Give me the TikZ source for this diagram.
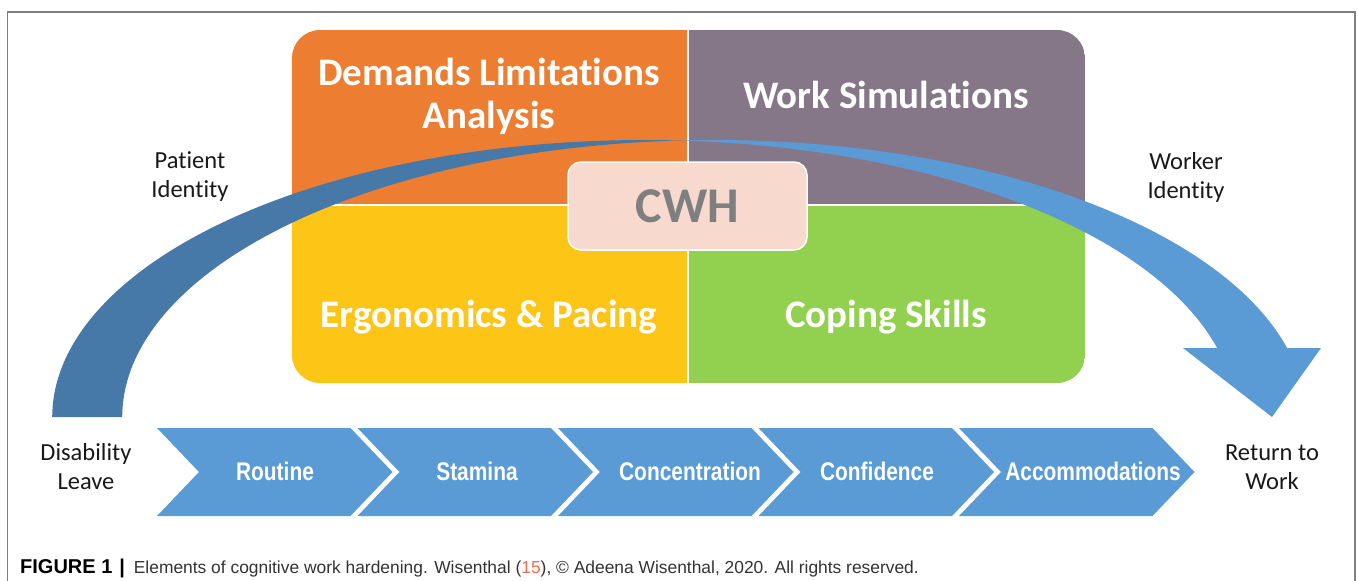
\documentclass[tikz,border=0pt]{standalone}
\usepackage{fontspec}
\setmainfont[Ligatures=NoCommon]{Carlito}
\newfontfamily\chevfont[FakeStretch=0.82]{Liberation Sans}
\newfontfamily\capfont{Liberation Sans}
\usepackage{xcolor}
\usetikzlibrary{positioning}

\definecolor{dlaorange}{HTML}{ED7D31}
\definecolor{simpurple}{HTML}{857688}
\definecolor{ergyellow}{HTML}{FDC516}
\definecolor{copegreen}{HTML}{92D050}
\definecolor{hubpink}{HTML}{F8D9CE}
\definecolor{hubgray}{HTML}{7F7F7F}
\definecolor{stepblue}{HTML}{5B9BD5}
\definecolor{backblue}{HTML}{4779A8}
\definecolor{refred}{HTML}{E8704A}
\definecolor{framegray}{HTML}{808080}

\begin{document}
\begin{tikzpicture}[
  x=1pt, y=-1pt,
  every node/.style={inner sep=0pt},
  quad/.style={font=\fontsize{39}{43}\selectfont\bfseries, text=white, align=center},
  side/.style={font=\fontsize{24.5}{29}\selectfont, text=black!90, align=center},
  chev/.style={fill=stepblue},
  chevlbl/.style={font=\chevfont\fontsize{25.5}{28}\selectfont\bfseries, text=white},
  hub/.style={draw=white, line width=1.5pt, fill=hubpink, rounded corners=13pt,
              minimum width=239pt, minimum height=88pt,
              font=\fontsize{50}{50}\selectfont\bfseries, text=hubgray}
]
  \useasboundingbox (0,0) rectangle (1358,581);

  % frame
  \draw[framegray, line width=1.2pt] (7.5,581) -- (7.5,12) -- (1355,12) -- (1355,581);

  % four quadrants, outer corners rounded
  \begin{scope}
    \clip[rounded corners=28pt] (292,30) rectangle (1085,383);
    \fill[dlaorange] (292,30) rectangle (688,205);
    \fill[simpurple] (688,30) rectangle (1085,205);
    \fill[ergyellow] (292,205) rectangle (688,383);
    \fill[copegreen] (688,205) rectangle (1085,383);
    \draw[white, line width=1.5pt] (688,30) -- (688,383) (292,205) -- (1085,205);
  \end{scope}

  \node[quad] (dla)  at (489,96)  {Demands Limitations\\Analysis};
  \node[quad] (sim)  at (886,95)  {Work Simulations};
  \node[quad] (erg)  at (489,317) {Ergonomics \& Pacing};
  \node[quad] (cope) at (886,317) {Coping Skills};

  % curved arrow: two ellipses shifted by the band width
  \fill[backblue]
    plot[domain=180:273.39, samples=80] ({644+591.8*cos(\x)},{417+277*sin(\x)})
    -- plot[domain=266.61:180, samples=80] ({714+591.8*cos(\x)},{417+277*sin(\x)})
    -- cycle;
  \fill[stepblue]
    plot[domain=266.61:345.58, samples=80] ({714+591.8*cos(\x)},{417+277*sin(\x)})
    -- (1321,348) -- (1272,417) -- (1183,348)
    -- plot[domain=345.58:273.39, samples=80] ({644+591.8*cos(\x)},{417+277*sin(\x)})
    -- cycle;

  \node[hub] (cwh) at (687.5,206) {CWH};

  \node[side] (patient) at (190,177)  {Patient\\Identity};
  \node[side] (worker)  at (1186,177) {Worker\\Identity};

  % chevron steps
  \foreach \sx in {157,357.5,558,758.5,959}
    \fill[chev] (\sx,428) -- ++(193.5,0) -- ++(42,44) -- ++(-42,44)
      -- ++(-193.5,0) -- ++(42,-44) -- cycle;

  \node[chevlbl] (routine) at (275,471)  {Routine};
  \node[chevlbl] (stamina) at (477,471)  {Stamina};
  \node[chevlbl] (conc)    at (690,471)  {Concentration};
  \node[chevlbl] (conf)    at (877,471)  {Confidence};
  \node[chevlbl] (accom)   at (1093,471) {Accommodations};

  \node[side] (leave) at (86,467)   {Disability\\Leave};
  \node[side] (rtw)   at (1272,467) {Return to\\Work};

  % caption
  \node[anchor=base west, font=\capfont\fontsize{17.4}{20}\selectfont, text=black!80]
    (caption) at (20,573)
    {{\fontsize{20}{20}\selectfont\bfseries\color{black}FIGURE 1\hspace{7pt}|\hspace{4pt}} Elements of cognitive work hardening.
     Wisenthal ({\color{refred}15}), \textcopyright{} Adeena Wisenthal, 2020. All rights reserved.};
\end{tikzpicture}
\end{document}
